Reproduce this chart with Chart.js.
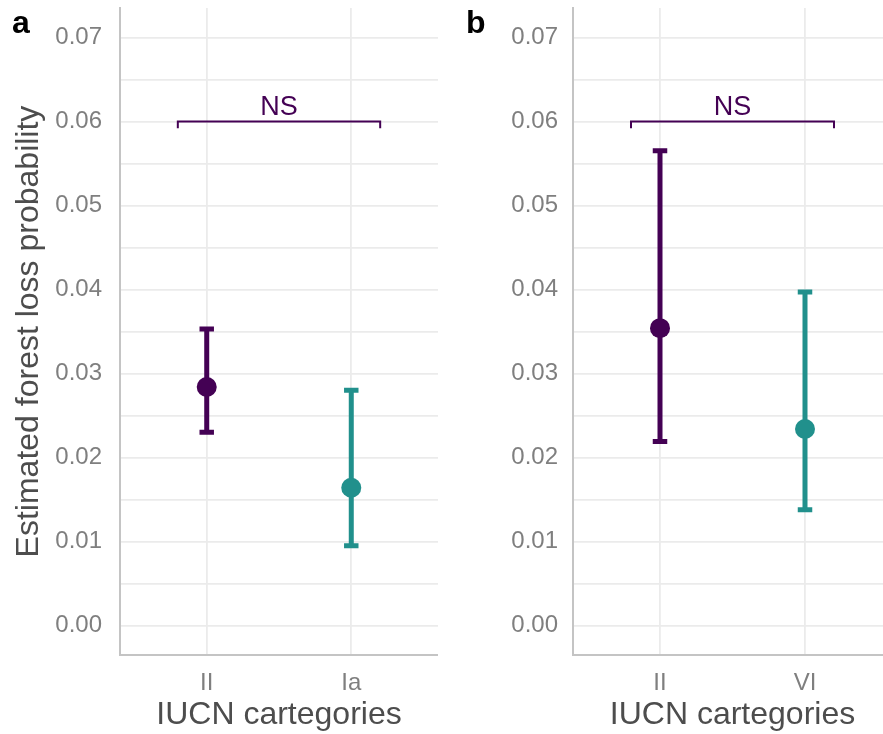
<!DOCTYPE html>
<html>
<head>
<meta charset="utf-8">
<script src="https://cdn.jsdelivr.net/npm/chart.js@4/dist/chart.umd.min.js"></script>
<style>
  html, body { margin: 0; padding: 0; background: #fff; }
  body { width: 883px; height: 734px; overflow: hidden; position: relative; font-family: "Liberation Sans", Arial, sans-serif; }
  .panel { position: absolute; top: 0; height: 734px; }
  #panelA { left: 0; width: 438px; }
  #panelB { left: 440px; width: 452px; }
  .tag { position: absolute; top: 6px; font-weight: bold; font-size: 32px; line-height: 32px; color: #000; }
</style>
</head>
<body>
<div class="panel" id="panelA"><canvas id="chartA" width="438" height="734"></canvas></div>
<div class="panel" id="panelB"><canvas id="chartB" width="452" height="734"></canvas></div>
<div class="tag" style="left:12px">a</div>
<div class="tag" style="left:466px">b</div>

<script>
// panel a: II vs Ia
const catsA = ['II', 'Ia'];
const estA = [0.0284, 0.0164];
const lowA = [0.0230, 0.0095];
const highA = [0.0353, 0.0280];

// panel b: II vs VI
const catsB = ['II', 'VI'];
const estB = [0.0354, 0.0234];
const lowB = [0.0219, 0.0138];
const highB = [0.0565, 0.0397];

// y grid: labelled majors + unlabelled minors
const yMajor = [0, 0.01, 0.02, 0.03, 0.04, 0.05, 0.06, 0.07];
const yMinor = [0.005, 0.015, 0.025, 0.035, 0.045, 0.055, 0.065];
const yLabels = ['0.00', '0.01', '0.02', '0.03', '0.04', '0.05', '0.06', '0.07'];

// significance bracket
const bracketFrom = 0.8;
const bracketTo = 2.2;
const bracketY = 0.06;
const bracketDrop = 0.0008;
const bracketText = 'NS';

const PURPLE = '#440154';
const TEAL = '#21908C';
const pointColors = [PURPLE, TEAL];

Chart.defaults.font.family = '"Liberation Sans", Arial, sans-serif';

// whiskers go under the points
const errorBars = {
  id: 'errorBars',
  beforeDatasetsDraw(chart){
    const ds = chart.data.datasets[0];
    const { ctx, scales: { x, y } } = chart;
    ctx.save();
    ctx.lineWidth = 5;
    ctx.lineCap = 'butt';
    ds.errLow.forEach((lo, i) => {
      const cx = x.getPixelForValue(i + 1);
      const l = x.getPixelForValue(i + 1 - 0.05);
      const r = x.getPixelForValue(i + 1 + 0.05);
      const yLo = y.getPixelForValue(lo);
      const yHi = y.getPixelForValue(ds.errHigh[i]);
      ctx.strokeStyle = pointColors[i];
      ctx.beginPath();
      ctx.moveTo(cx, yLo); ctx.lineTo(cx, yHi);
      ctx.moveTo(l, yLo); ctx.lineTo(r, yLo);
      ctx.moveTo(l, yHi); ctx.lineTo(r, yHi);
      ctx.stroke();
    });
    ctx.restore();
  }
};

const bracketLabel = {
  id: 'bracketLabel',
  afterDatasetsDraw(chart){
    const { ctx, scales: { x, y } } = chart;
    ctx.save();
    ctx.fillStyle = PURPLE;
    ctx.font = '27px "Liberation Sans", Arial, sans-serif';
    ctx.textAlign = 'center';
    ctx.textBaseline = 'alphabetic';
    ctx.fillText(bracketText, x.getPixelForValue((bracketFrom + bracketTo) / 2), y.getPixelForValue(bracketY) - 6);
    ctx.restore();
  }
};

// no extra room for half-labels at the ends of the axes
function noPad(s){
  s.paddingTop = 0; s.paddingBottom = 0; s.paddingLeft = 0; s.paddingRight = 0;
}

function makePanel(id, cats, est, low, high, yWidth, tickPad, showTitle){
  const yTicks = yMajor.concat(yMinor).sort((a, b) => a - b);
  return new Chart(document.getElementById(id), {
    type: 'scatter',
    data: {
      datasets: [
        {
          data: cats.map((c, i) => ({ x: i + 1, y: est[i] })),
          errLow: low,
          errHigh: high,
          backgroundColor: pointColors,
          borderColor: pointColors,
          borderWidth: 0,
          pointRadius: 10,
          pointHoverRadius: 10
        },
        {
          type: 'line',
          data: [
            { x: bracketFrom, y: bracketY - bracketDrop },
            { x: bracketFrom, y: bracketY },
            { x: bracketTo, y: bracketY },
            { x: bracketTo, y: bracketY - bracketDrop }
          ],
          borderColor: PURPLE,
          borderWidth: 2,
          pointRadius: 0,
          fill: false,
          tension: 0
        }
      ]
    },
    options: {
      responsive: false,
      animation: false,
      events: [],
      layout: { autoPadding: false, padding: { top: 8, right: 0, bottom: 0, left: 0 } },
      plugins: { legend: { display: false }, tooltip: { enabled: false } },
      scales: {
        x: {
          type: 'linear',
          min: 0.4,
          max: 2.6,
          afterBuildTicks: s => { s.ticks = cats.map((c, i) => ({ value: i + 1 })); },
          afterFit: s => { s.height = 79; noPad(s); },
          grid: { color: '#EBEBEB', lineWidth: 1.8, drawTicks: false },
          border: { color: '#C4C4C4', width: 2 },
          ticks: {
            callback: v => cats[v - 1] ?? '',
            color: '#7F7F7F',
            font: { size: 24 },
            padding: 14,
            maxRotation: 0,
            autoSkip: false
          },
          title: { display: true, text: 'IUCN cartegories', color: '#4D4D4D', font: { size: 32 }, padding: { top: 0, bottom: 0 } }
        },
        y: {
          min: -0.0035,
          max: 0.0735,
          afterBuildTicks: s => { s.ticks = yTicks.map(v => ({ value: v })); },
          afterFit: s => { s.width = yWidth; noPad(s); },
          grid: { color: '#EBEBEB', lineWidth: 1.8, drawTicks: false },
          border: { color: '#C4C4C4', width: 2 },
          ticks: {
            callback: v => { const k = yMajor.indexOf(v); return k < 0 ? '' : yLabels[k]; },
            color: '#7F7F7F',
            font: { size: 24 },
            padding: tickPad,
            autoSkip: false
          },
          title: {
            display: showTitle,
            text: 'Estimated forest loss probability',
            color: '#4D4D4D',
            font: { size: 32 },
            padding: { top: 10, bottom: 0 }
          }
        }
      }
    },
    plugins: [errorBars, bracketLabel]
  });
}

makePanel('chartA', catsA, estA, lowA, highA, 120, 18, true);
makePanel('chartB', catsB, estB, lowB, highB, 133, 15, false);
</script>
</body>
</html>
